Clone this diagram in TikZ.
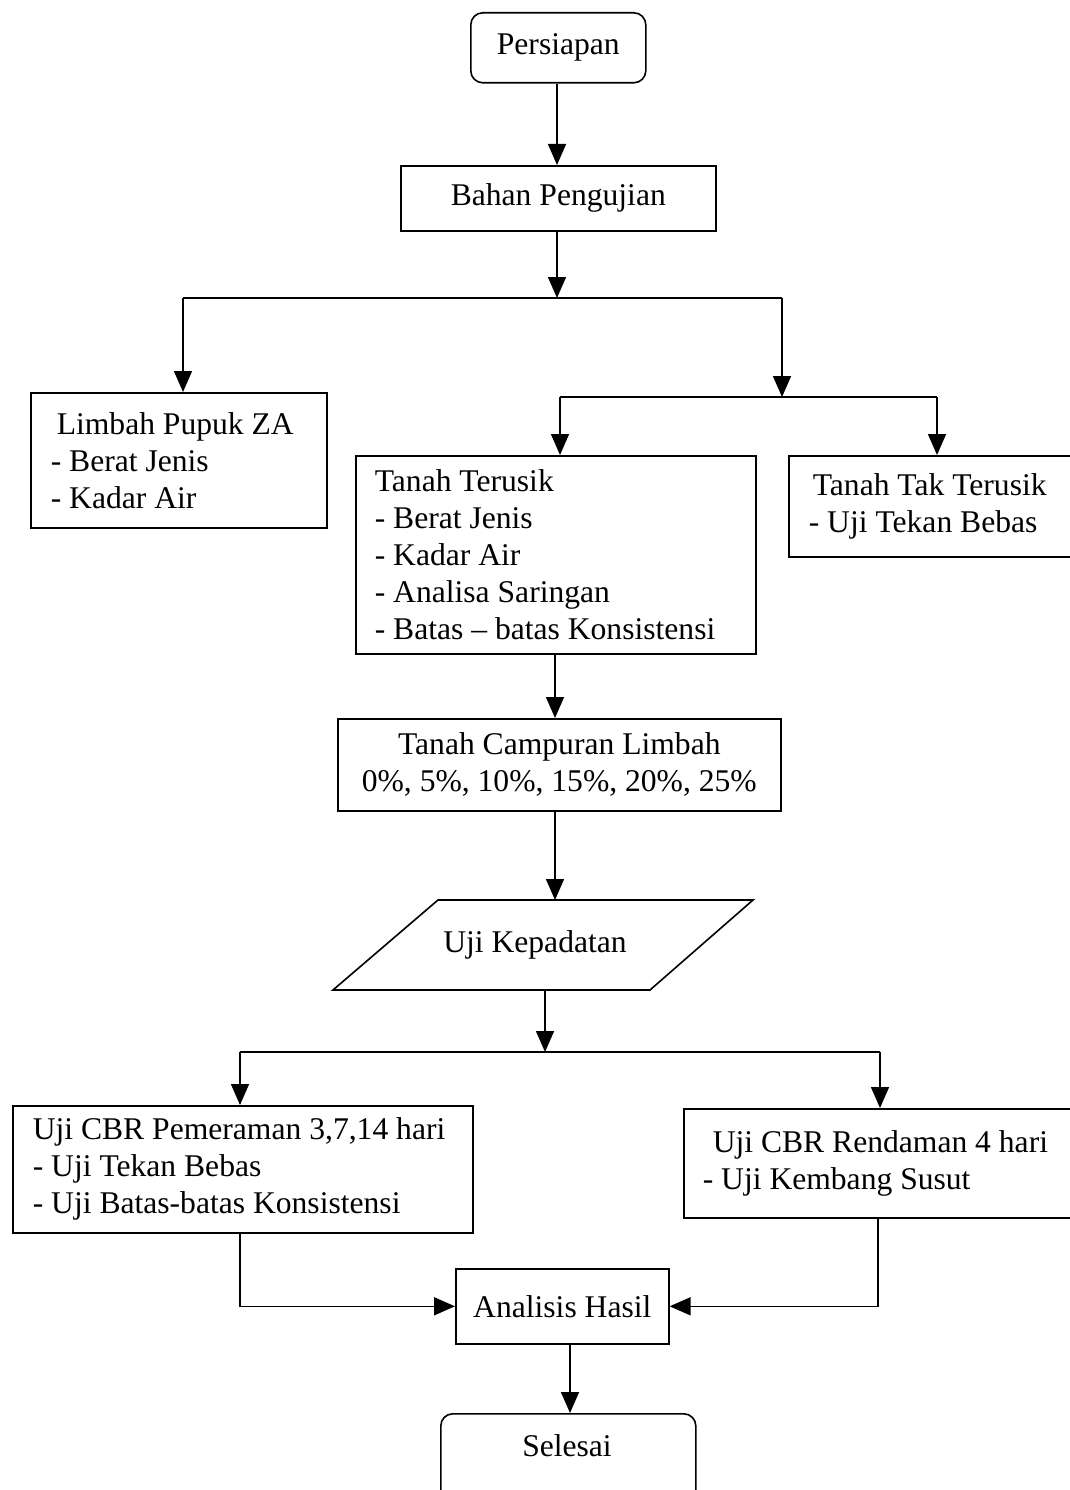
\documentclass[tikz,border=0pt]{standalone}
\usepackage{fontspec}
\setmainfont{Liberation Serif}
\usetikzlibrary{arrows.meta}
\newcommand{\mynsp}{\spaceskip=0pt\relax}
\begin{document}
\begin{tikzpicture}[x=1pt,y=-1pt,
  font=\fontsize{31.6}{37}\selectfont,
  box/.style={draw, line width=1.6pt, rectangle, anchor=north west, inner sep=0pt},
  rbox/.style={box, rounded corners=12pt},
  conn/.style={line width=1.6pt},
  arr/.style={conn, -{Triangle[length=21pt,width=18pt]}}]
\useasboundingbox (0,0) rectangle (1070,1490);
\clip (0,0) rectangle (1070,1490);
\fill[white] (0,0) rectangle (1070,1490);

% nodes
\node[rbox, minimum width=175pt, minimum height=70pt] (per) at (470,12) {Persiapan};
\node[box, minimum width=315pt, minimum height=65pt] (bah) at (400,165) {Bahan Pengujian};
\node[box, minimum width=296pt, minimum height=135pt, text width=256pt, align=left] (lim) at (30,392)
  {\mynsp\hspace*{6pt}Limbah Pupuk ZA\\- Berat Jenis\\- Kadar Air};
\node[box, minimum width=400pt, minimum height=198pt, text width=362pt, align=left] (ter) at (355,455)
  {\mynsp Tanah Terusik\\- Berat Jenis\\- Kadar Air\\- Analisa Saringan\\- Batas -- batas Konsistensi};
\node[box, minimum width=320pt, minimum height=101pt, text width=280pt, align=left] (tak) at (788,455)
  {\mynsp\hspace*{4pt}Tanah Tak Terusik\\- Uji Tekan Bebas};
\node[box, minimum width=443pt, minimum height=92pt, align=center] (cam) at (337,718)
  {Tanah Campuran Limbah\\0\%, 5\%, 10\%, 15\%, 20\%, 25\%};
\node[inner sep=0pt] (kep) at (535,945) {Uji Kepadatan};
\coordinate (kt) at (555,900);
\coordinate (kb) at (545,990);
\draw[conn, line join=miter] (438,900) -- (753,900) -- (650,990) -- (333,990) -- cycle;
\node[box, minimum width=460pt, minimum height=127pt, text width=420pt, align=left] (pem) at (12,1105)
  {\mynsp Uji CBR Pemeraman 3,7,14 hari\\- Uji Tekan Bebas\\- Uji Batas-batas Konsistensi};
\node[box, minimum width=420pt, minimum height=109pt, text width=382pt, align=left] (ren) at (683,1108)
  {\mynsp\hspace*{10pt}Uji CBR Rendaman 4 hari\\- Uji Kembang Susut};
\node[box, minimum width=213pt, minimum height=75pt] (ana) at (455,1268) {Analisis Hasil};
\node[rbox, minimum width=255pt, minimum height=110pt] (sel) at (440,1413) {};
\node (seltxt) at (567,1446) {Selesai};

% junctions
\coordinate (j1) at (557,298);
\coordinate (j1L) at (183,298);
\coordinate (j1R) at (782,298);
\coordinate (j2) at (782,397);
\coordinate (j2L) at (560,397);
\coordinate (j2R) at (937,397);
\coordinate (j3) at (545,1052);
\coordinate (j3L) at (240,1052);
\coordinate (j3R) at (880,1052);

% connectors
\draw[arr] (per.south -| j1) -- (bah.north -| j1);
\draw[arr] (bah.south -| j1) -- (j1);
\draw[conn] (j1L) -- (j1R);
\draw[arr] (j1L) -- (j1L |- lim.north);
\draw[arr] (j1R) -- (j2);
\draw[conn] (j2L) -- (j2R);
\draw[arr] (j2L) -- (j2L |- ter.north);
\draw[arr] (j2R) -- (j2R |- tak.north);
\draw[arr] (ter.south -| kt) -- (cam.north -| kt);
\draw[arr] (cam.south -| kt) -- (kt);
\draw[arr] (kb) -- (j3);
\draw[conn] (j3L) -- (j3R);
\draw[arr] (j3L) -- (j3L |- pem.north);
\draw[arr] (j3R) -- (j3R |- ren.north);
\draw[arr] (pem.south -| j3L) |- (ana.west);
\draw[arr] (ren.south -| 878,0) |- (ana.east);
\draw[arr] (ana.south -| 570,0) -- (sel.north -| 570,0);
\end{tikzpicture}
\end{document}
